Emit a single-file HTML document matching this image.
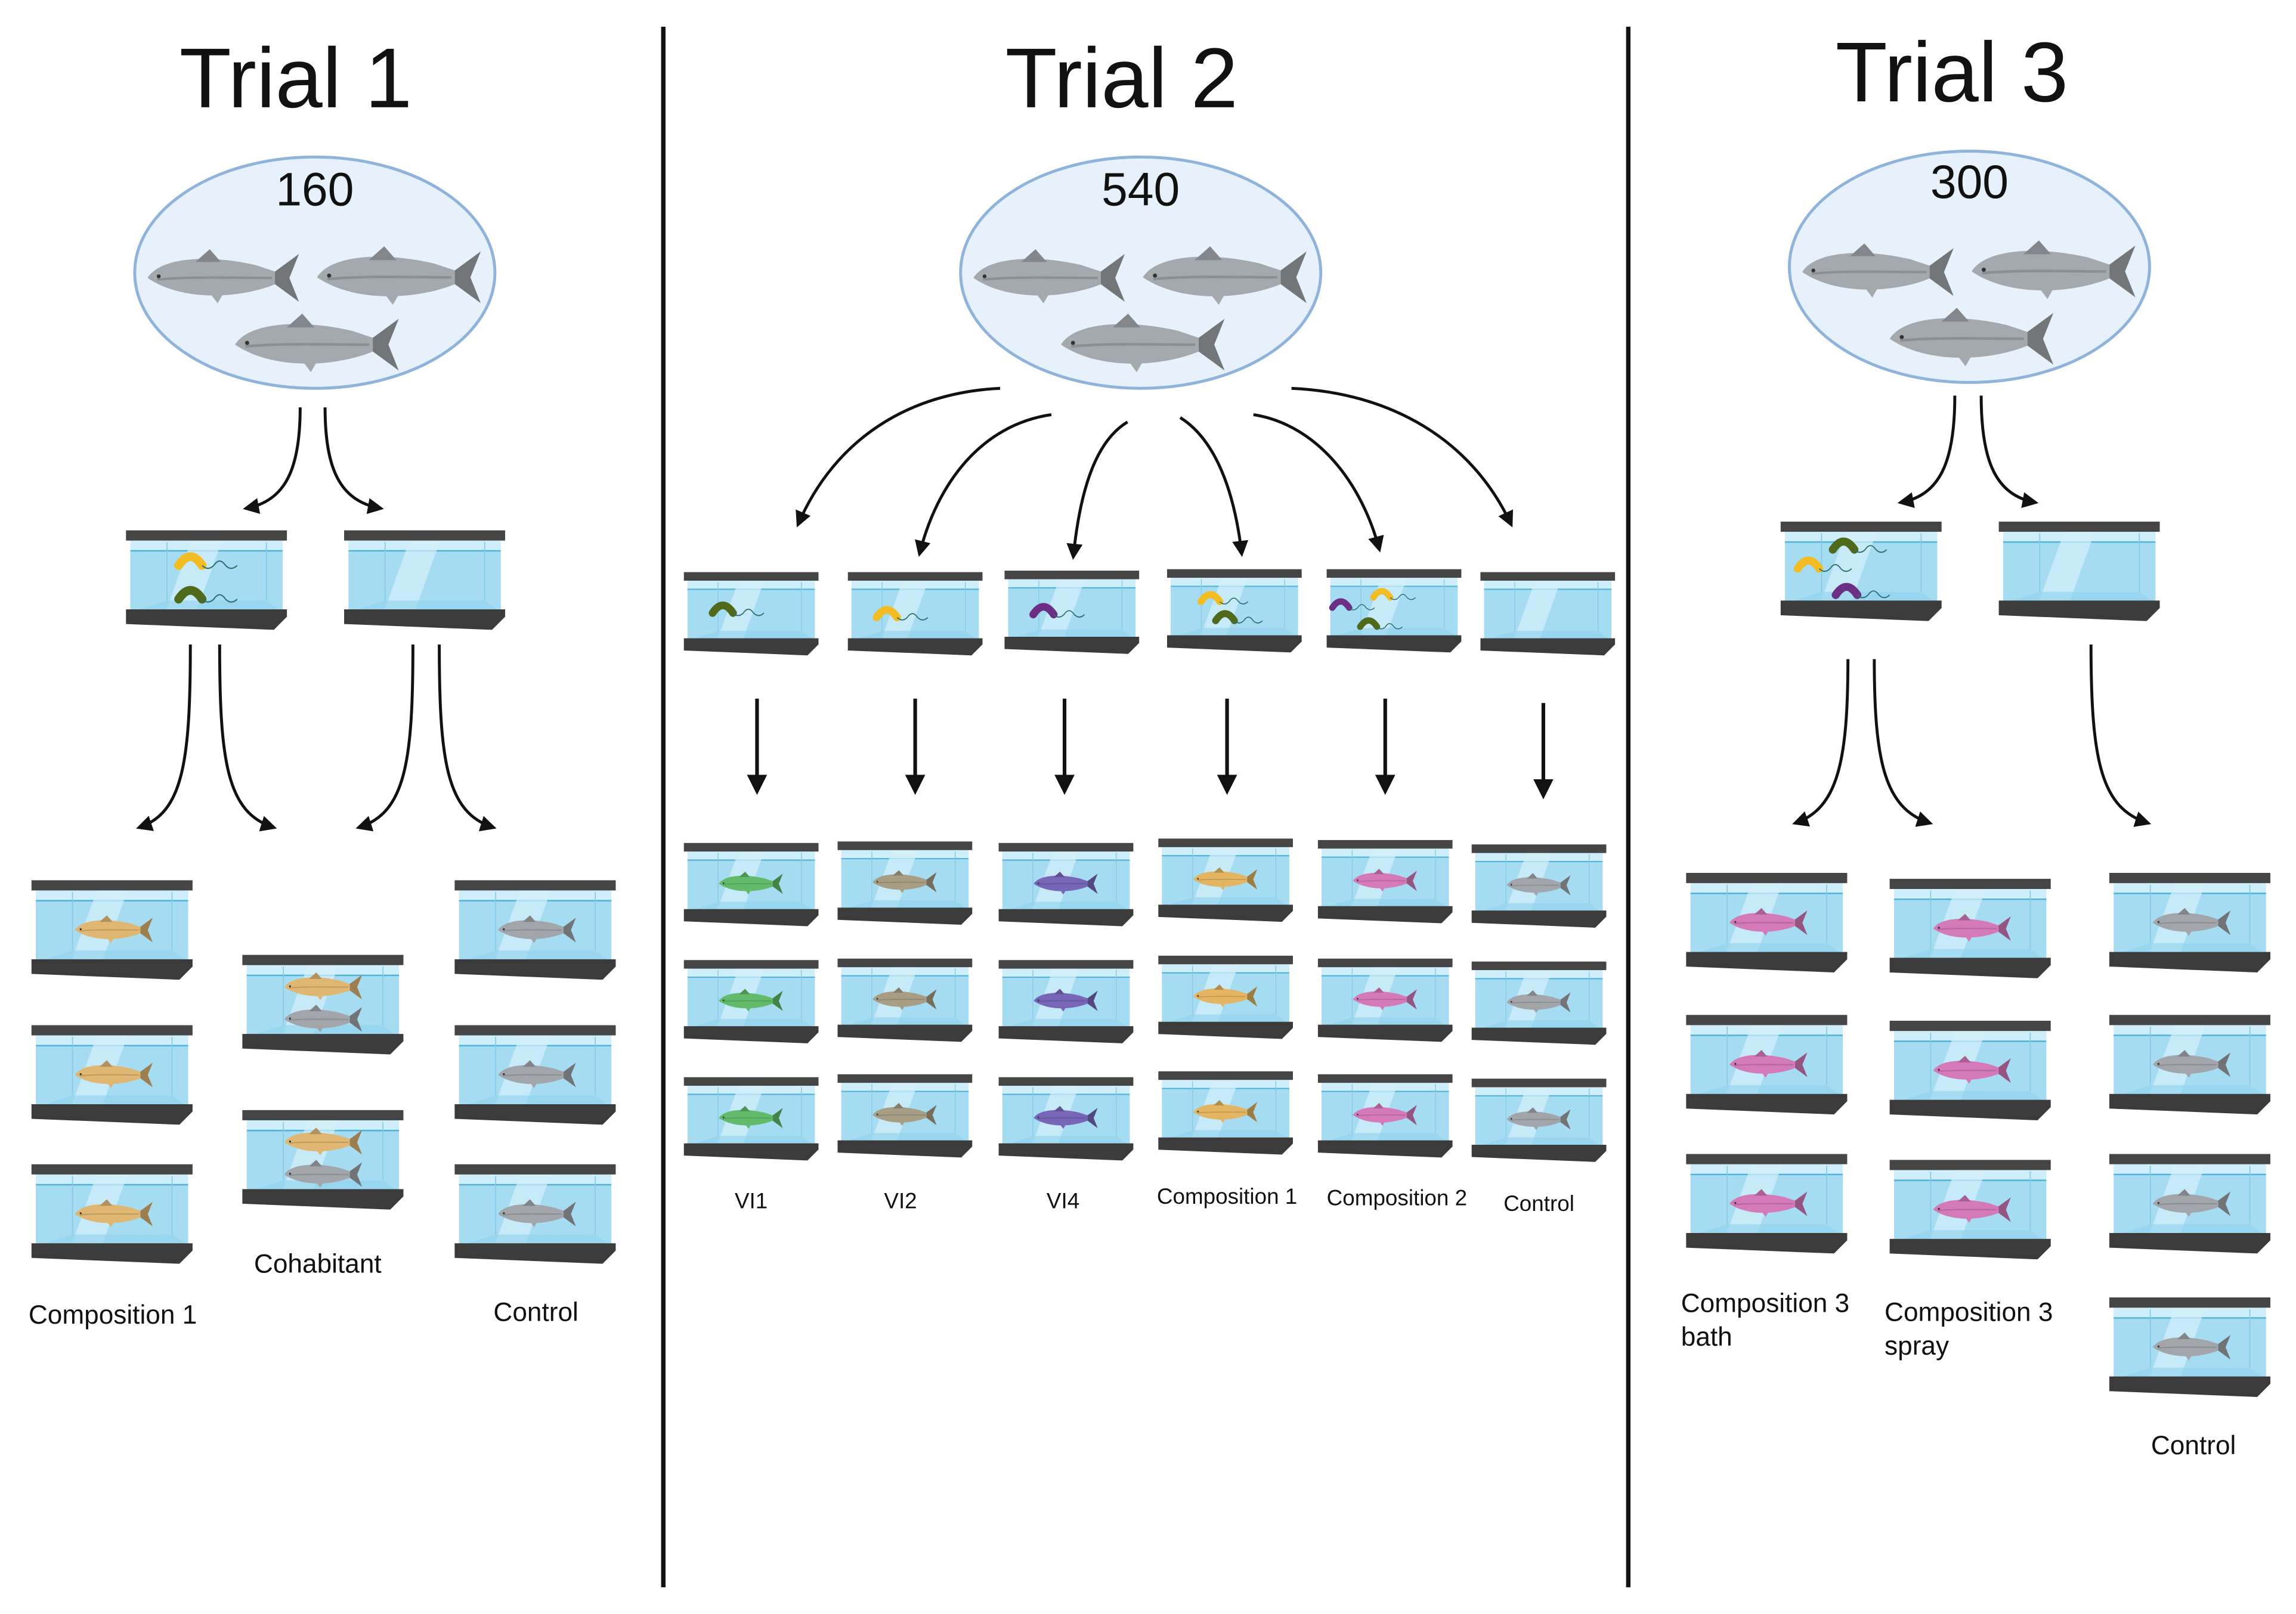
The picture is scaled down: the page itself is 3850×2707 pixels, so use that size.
<!DOCTYPE html>
<html><head><meta charset="utf-8"><style>
html,body{margin:0;padding:0;background:#fff}
svg{display:block}
text{font-family:"Liberation Sans",sans-serif;fill:#111}
</style></head><body>
<svg width="3850" height="2707" viewBox="0 0 1568 1102" xmlns="http://www.w3.org/2000/svg">
<defs>
<symbol id="tank" viewBox="0 0 110 68">
 <rect x="3" y="6" width="104" height="50" fill="#cdeefa"/>
 <rect x="3" y="14" width="104" height="42" fill="#a6dcf2"/>
 <line x1="3" y1="14" x2="107" y2="14" stroke="#4fb3d9" stroke-width="1"/>
 <polygon points="45,6 66,6 48,56 27,56" fill="#d4f0fa" opacity=".7"/>
 <line x1="28" y1="8" x2="28" y2="48" stroke="#86cbe6" stroke-width=".7"/>
 <line x1="96" y1="8" x2="96" y2="48" stroke="#86cbe6" stroke-width=".7"/>
 <polygon points="3,56 28,48 96,48 107,56" fill="#8fd2ee" opacity=".6"/>
 <rect x="0" y="0" width="110" height="7" fill="#454545"/>
 <polygon points="0,54 110,54 110,59 101,68 0,64" fill="#3b3b3b"/>
</symbol>
<symbol id="fish" viewBox="0 0 100 34" overflow="visible">
 <path d="M2,18 C10,5 40,3 70,10 L82,14 L97,3 L91,18 L97,33 L82,22 C60,31 24,33 2,18 Z" fill="currentColor"/>
 <path d="M32,8 L41,0 L48,8 Z" fill="currentColor"/>
 <path d="M82,14 L97,3 L91,18 L97,33 L82,22 Z" fill="#000" opacity=".3"/>
 <path d="M32,8 L41,0 L48,8 Z" fill="#000" opacity=".2"/>
 <path d="M8,19 C30,17 55,18 80,18" stroke="#000" stroke-opacity=".15" stroke-width="1.5" fill="none"/>
 <path d="M40,26 L46,34 L50,27 Z" fill="currentColor"/>
 <circle cx="9" cy="17" r="1.2" fill="#333"/>
</symbol>
<symbol id="bac" viewBox="0 0 50 16" overflow="visible">
 <path d="M4,12 Q12,0 20,12" stroke="currentColor" stroke-width="6" fill="none" stroke-linecap="round"/>
 <path d="M20,12 q4,4 8,0 q4,-6 8,0 q4,4 8,0" stroke="#2d6c6c" stroke-width=".8" fill="none"/>
</symbol>
<marker id="ah" viewBox="0 0 10 10" refX="8" refY="5" markerWidth="5.5" markerHeight="5.5" orient="auto" markerUnits="strokeWidth">
 <path d="M0,0 L10,5 L0,10 Z" fill="#111"/>
</marker>
</defs>

<rect x="451.5" y="18" width="3" height="1066" fill="#111"/>
<rect x="1110.5" y="18" width="3" height="1066" fill="#111"/>

<text x="202" y="73" font-size="58" text-anchor="middle">Trial 1</text>
<text x="766" y="73" font-size="58" text-anchor="middle">Trial 2</text>
<text x="1333" y="69" font-size="58" text-anchor="middle">Trial 3</text>

<g fill="#e6f1fb" stroke="#8fb3da" stroke-width="2">
 <ellipse cx="215" cy="186" rx="123" ry="79"/>
 <ellipse cx="779" cy="186" rx="123" ry="79"/>
 <ellipse cx="1345" cy="182" rx="123" ry="79"/>
</g>
<text x="215" y="140" font-size="32" text-anchor="middle">160</text>
<text x="779" y="140" font-size="32" text-anchor="middle">540</text>
<text x="1345" y="135" font-size="32" text-anchor="middle">300</text>
<g color="#a4a9ae">
 <use href="#fish" x="98" y="170" width="110" height="37"/>
 <use href="#fish" x="212" y="168" width="122" height="40"/>
 <use href="#fish" x="156" y="214" width="122" height="40"/>
 <use href="#fish" x="662" y="170" width="110" height="37"/>
 <use href="#fish" x="776" y="168" width="122" height="40"/>
 <use href="#fish" x="720" y="214" width="122" height="40"/>
 <use href="#fish" x="1228" y="166" width="110" height="37"/>
 <use href="#fish" x="1342" y="164" width="122" height="40"/>
 <use href="#fish" x="1286" y="210" width="122" height="40"/>
</g>

<g stroke="#111" fill="none" stroke-width="2" marker-end="url(#ah)">
 <path d="M205,278 C205,320 195,342 168,347"/>
 <path d="M222,278 C222,320 232,342 260,347"/>
 <path d="M130,440 C130,520 125,555 95,565"/>
 <path d="M150,440 C150,520 155,555 187,565"/>
 <path d="M282,440 C282,520 277,555 245,565"/>
 <path d="M300,440 C300,520 305,555 337,565"/>
 <path d="M683,265 C620,268 570,300 545,358"/>
 <path d="M718,283 C670,290 640,330 628,378"/>
 <path d="M770,288 C750,300 738,330 733,380"/>
 <path d="M806,285 C830,300 843,335 848,378"/>
 <path d="M856,283 C900,290 930,330 942,375"/>
 <path d="M882,265 C950,268 1005,300 1032,358"/>
 <path d="M1335,270 C1335,315 1325,338 1298,343"/>
 <path d="M1353,270 C1353,315 1363,338 1390,343"/>
 <path d="M1262,450 C1262,520 1255,552 1226,562"/>
 <path d="M1280,450 C1280,520 1287,552 1318,562"/>
 <path d="M1428,440 C1428,520 1435,552 1467,562"/>
</g>
<g stroke="#111" stroke-width="2.5" marker-end="url(#ah)">
 <line x1="517" y1="477" x2="517" y2="540"/>
 <line x1="625" y1="477" x2="625" y2="540"/>
 <line x1="727" y1="477" x2="727" y2="540"/>
 <line x1="838" y1="477" x2="838" y2="540"/>
 <line x1="946" y1="477" x2="946" y2="540"/>
 <line x1="1054" y1="480" x2="1054" y2="543"/>
</g>

<use href="#tank" x="86" y="362" width="110" height="68"/>
<use href="#bac" x="118" y="374" width="50" height="16" color="#f2bd24"/>
<use href="#bac" x="118" y="397" width="50" height="16" color="#506a1c"/>
<use href="#tank" x="235" y="362" width="110" height="68"/>

<g>
 <use href="#tank" x="21" y="601" width="111" height="68"/>
 <use href="#tank" x="21" y="700" width="111" height="68"/>
 <use href="#tank" x="21" y="795" width="111" height="68"/>
 <use href="#tank" x="165" y="652" width="111" height="68"/>
 <use href="#tank" x="165" y="758" width="111" height="68"/>
 <use href="#tank" x="310" y="601" width="111" height="68"/>
 <use href="#tank" x="310" y="700" width="111" height="68"/>
 <use href="#tank" x="310" y="795" width="111" height="68"/>
</g>
<g color="#e0b673">
 <use href="#fish" x="50" y="625" width="56" height="19"/>
 <use href="#fish" x="50" y="724" width="56" height="19"/>
 <use href="#fish" x="50" y="819" width="56" height="19"/>
 <use href="#fish" x="193" y="664" width="56" height="19"/>
 <use href="#fish" x="193" y="770" width="56" height="19"/>
</g>
<g color="#a2a6ab">
 <use href="#fish" x="193" y="686" width="56" height="19"/>
 <use href="#fish" x="193" y="792" width="56" height="19"/>
 <use href="#fish" x="339" y="625" width="56" height="19"/>
 <use href="#fish" x="339" y="724" width="56" height="19"/>
 <use href="#fish" x="339" y="819" width="56" height="19"/>
</g>
<text x="77" y="904" font-size="18" text-anchor="middle">Composition 1</text>
<text x="217" y="869" font-size="18" text-anchor="middle">Cohabitant</text>
<text x="366" y="902" font-size="18" text-anchor="middle">Control</text>

<use href="#tank" x="467" y="390" width="92" height="58"/>
<use href="#tank" x="579" y="390" width="92" height="58"/>
<use href="#tank" x="686" y="389" width="92" height="58"/>
<use href="#tank" x="797" y="388" width="92" height="58"/>
<use href="#tank" x="906" y="388" width="92" height="58"/>
<use href="#tank" x="1011" y="390" width="92" height="58"/>
<use href="#bac" x="483" y="408" width="44" height="14" color="#506a1c"/>
<use href="#bac" x="595" y="411" width="44" height="14" color="#f2bd24"/>
<use href="#bac" x="702" y="409" width="44" height="14" color="#6c2f86"/>
<use href="#bac" x="817" y="401" width="40" height="13" color="#f2bd24"/>
<use href="#bac" x="827" y="414" width="40" height="13" color="#506a1c"/>
<use href="#bac" x="907" y="406" width="36" height="12" color="#6c2f86"/>
<use href="#bac" x="935" y="399" width="36" height="12" color="#f2bd24"/>
<use href="#bac" x="926" y="419" width="36" height="12" color="#506a1c"/>

<g>
 <use href="#tank" x="467" y="575" width="92" height="58"/>
 <use href="#tank" x="467" y="655" width="92" height="58"/>
 <use href="#tank" x="467" y="735" width="92" height="58"/>
 <use href="#tank" x="572" y="574" width="92" height="58"/>
 <use href="#tank" x="572" y="654" width="92" height="58"/>
 <use href="#tank" x="572" y="733" width="92" height="58"/>
 <use href="#tank" x="682" y="575" width="92" height="58"/>
 <use href="#tank" x="682" y="655" width="92" height="58"/>
 <use href="#tank" x="682" y="735" width="92" height="58"/>
 <use href="#tank" x="791" y="572" width="92" height="58"/>
 <use href="#tank" x="791" y="652" width="92" height="58"/>
 <use href="#tank" x="791" y="731" width="92" height="58"/>
 <use href="#tank" x="900" y="573" width="92" height="58"/>
 <use href="#tank" x="900" y="654" width="92" height="58"/>
 <use href="#tank" x="900" y="733" width="92" height="58"/>
 <use href="#tank" x="1005" y="576" width="92" height="58"/>
 <use href="#tank" x="1005" y="656" width="92" height="58"/>
 <use href="#tank" x="1005" y="736" width="92" height="58"/>
</g>
<g color="#62bb6a">
 <use href="#fish" x="490" y="595" width="46" height="16"/>
 <use href="#fish" x="490" y="675" width="46" height="16"/>
 <use href="#fish" x="490" y="755" width="46" height="16"/>
</g>
<g color="#a89e86">
 <use href="#fish" x="595" y="594" width="46" height="16"/>
 <use href="#fish" x="595" y="674" width="46" height="16"/>
 <use href="#fish" x="595" y="753" width="46" height="16"/>
</g>
<g color="#7766b8">
 <use href="#fish" x="705" y="595" width="46" height="16"/>
 <use href="#fish" x="705" y="675" width="46" height="16"/>
 <use href="#fish" x="705" y="755" width="46" height="16"/>
</g>
<g color="#e3b461">
 <use href="#fish" x="814" y="592" width="46" height="16"/>
 <use href="#fish" x="814" y="672" width="46" height="16"/>
 <use href="#fish" x="814" y="751" width="46" height="16"/>
</g>
<g color="#d47ab8">
 <use href="#fish" x="923" y="593" width="46" height="16"/>
 <use href="#fish" x="923" y="674" width="46" height="16"/>
 <use href="#fish" x="923" y="753" width="46" height="16"/>
</g>
<g color="#a2a6ab">
 <use href="#fish" x="1028" y="596" width="46" height="16"/>
 <use href="#fish" x="1028" y="676" width="46" height="16"/>
 <use href="#fish" x="1028" y="756" width="46" height="16"/>
</g>
<g font-size="15" text-anchor="middle">
 <text x="513" y="825">VI1</text>
 <text x="615" y="825">VI2</text>
 <text x="726" y="825">VI4</text>
 <text x="838" y="822">Composition 1</text>
 <text x="954" y="823">Composition 2</text>
 <text x="1051" y="827">Control</text>
</g>

<use href="#tank" x="1216" y="356" width="110" height="68"/>
<use href="#tank" x="1365" y="356" width="110" height="68"/>
<use href="#bac" x="1248" y="364" width="46" height="15" color="#506a1c"/>
<use href="#bac" x="1224" y="377" width="46" height="15" color="#f2bd24"/>
<use href="#bac" x="1250" y="395" width="46" height="15" color="#6c2f86"/>
<g>
 <use href="#tank" x="1151" y="596" width="111" height="68"/>
 <use href="#tank" x="1151" y="693" width="111" height="68"/>
 <use href="#tank" x="1151" y="788" width="111" height="68"/>
 <use href="#tank" x="1290" y="600" width="111" height="68"/>
 <use href="#tank" x="1290" y="697" width="111" height="68"/>
 <use href="#tank" x="1290" y="792" width="111" height="68"/>
 <use href="#tank" x="1440" y="596" width="111" height="68"/>
 <use href="#tank" x="1440" y="693" width="111" height="68"/>
 <use href="#tank" x="1440" y="788" width="111" height="68"/>
 <use href="#tank" x="1440" y="886" width="111" height="68"/>
</g>
<g color="#d47ab8">
 <use href="#fish" x="1180" y="620" width="56" height="19"/>
 <use href="#fish" x="1180" y="717" width="56" height="19"/>
 <use href="#fish" x="1180" y="812" width="56" height="19"/>
 <use href="#fish" x="1319" y="624" width="56" height="19"/>
 <use href="#fish" x="1319" y="721" width="56" height="19"/>
 <use href="#fish" x="1319" y="816" width="56" height="19"/>
</g>
<g color="#a2a6ab">
 <use href="#fish" x="1469" y="620" width="56" height="19"/>
 <use href="#fish" x="1469" y="717" width="56" height="19"/>
 <use href="#fish" x="1469" y="812" width="56" height="19"/>
 <use href="#fish" x="1469" y="910" width="56" height="19"/>
</g>
<g font-size="18">
 <text x="1148" y="896">Composition 3</text>
 <text x="1148" y="919">bath</text>
 <text x="1287" y="902">Composition 3</text>
 <text x="1287" y="925">spray</text>
 <text x="1498" y="993" text-anchor="middle">Control</text>
</g>
</svg>
</body></html>
